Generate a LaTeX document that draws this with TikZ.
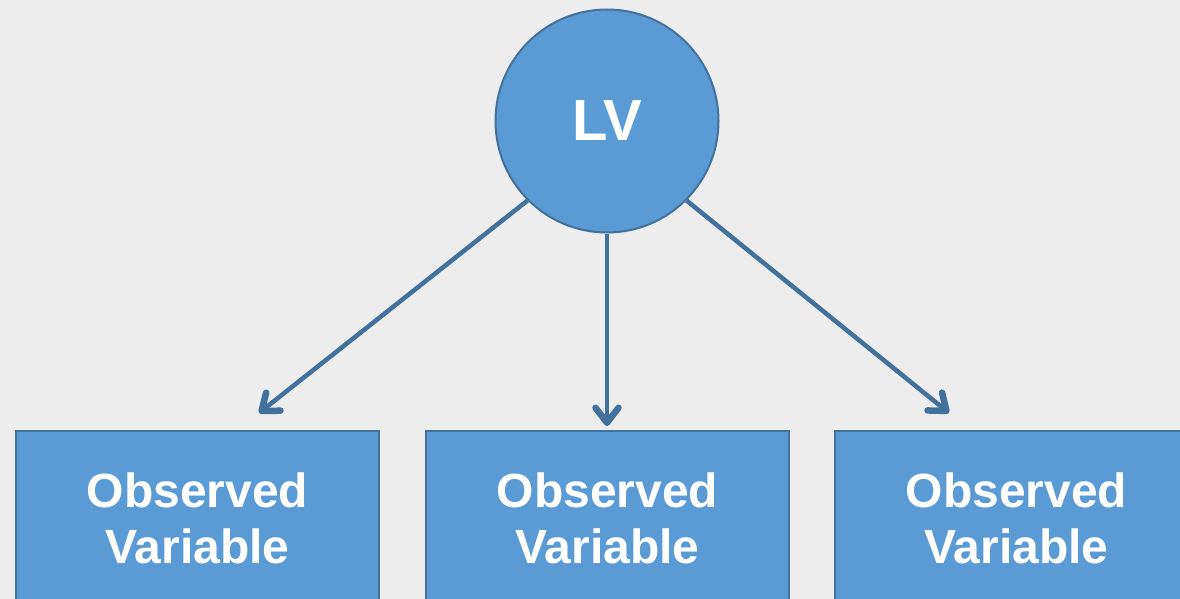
\documentclass[tikz,border=0pt]{standalone}
\usepackage{fontspec}
\setmainfont{Liberation Sans}
\usetikzlibrary{arrows.meta}
\definecolor{bg}{HTML}{EDEDED}
\definecolor{fillblue}{HTML}{5B9BD5}
\definecolor{edgeblue}{HTML}{41719C}
\tikzset{
  lvnode/.style={circle, draw=edgeblue, line width=2pt, fill=fillblue, minimum size=223pt, inner sep=0pt,
    text=white, font=\fontsize{58pt}{60pt}\selectfont\bfseries},
  obsbox/.style={rectangle, draw=edgeblue, line width=2pt, fill=fillblue, minimum width=363pt, minimum height=175pt,
    inner sep=0pt, text=white, align=center, font=\fontsize{48pt}{56pt}\selectfont\bfseries},
  link/.style={draw=edgeblue, line width=4.5pt, -{Straight Barb[length=15pt, width=23pt, line width=6.5pt, line cap=round, line join=round]}}
}
\begin{document}
\begin{tikzpicture}[x=1pt, y=-1pt]
\useasboundingbox (0,0) rectangle (1180,599);
\clip (0,0) rectangle (1180,599);
\fill[bg] (0,0) rectangle (1180,599);
\node[lvnode] (lv) at (607,121) {\raisebox{-3pt}{LV}};
\node[obsbox] (b1) at (197.5,518.5) {Observed\\Variable};
\node[obsbox] (b2) at (607.5,518.5) {Observed\\Variable};
\node[obsbox] (b3) at (1016.5,518.5) {Observed\\Variable};
\coordinate (t1) at (259,413);
\coordinate (t2) at (607,426);
\coordinate (t3) at (949,413);
\draw[link] (lv.225) -- (t1);
\draw[link] (lv.south) -- (t2);
\draw[link] (lv.-45) -- (t3);
\end{tikzpicture}
\end{document}
